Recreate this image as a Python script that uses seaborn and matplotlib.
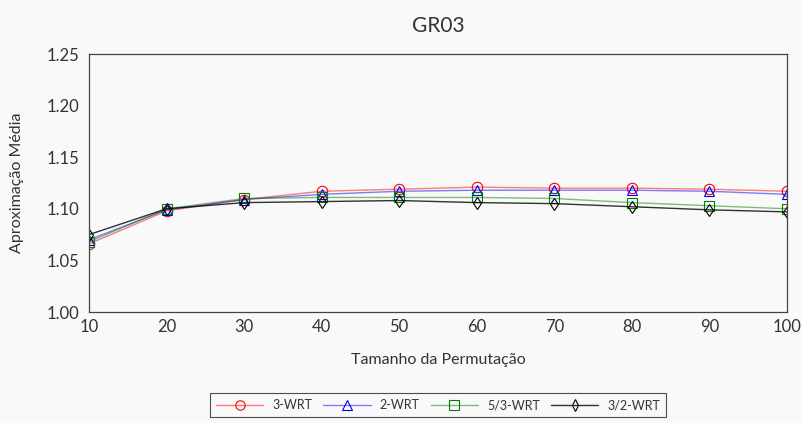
import matplotlib
matplotlib.use("Agg")
import matplotlib.pyplot as plt
import seaborn as sns
import pandas as pd
from matplotlib.colors import to_rgba

sizes = [10, 20, 30, 40, 50, 60, 70, 80, 90, 100]
wrt3 = [1.066, 1.098, 1.109, 1.117, 1.119, 1.121, 1.120, 1.120, 1.119, 1.117]
wrt2 = [1.070, 1.099, 1.109, 1.114, 1.117, 1.118, 1.118, 1.118, 1.117, 1.114]
wrt53 = [1.068, 1.100, 1.110, 1.111, 1.111, 1.111, 1.110, 1.106, 1.103, 1.100]
wrt32 = [1.075, 1.100, 1.106, 1.107, 1.108, 1.106, 1.105, 1.102, 1.099, 1.097]
names = ["3-WRT", "2-WRT", "5/3-WRT", "3/2-WRT"]
series = [wrt3, wrt2, wrt53, wrt32]
colors = ["#ff0000", "#0000ff", "#008000", "#000000"]
markers = ["o", "^", "s", "d"]

bg = "#f9f9f9"
sns.set_theme(style="white")
plt.rcParams["font.family"] = ["Lato", "DejaVu Sans"]

fig = plt.figure(figsize=(8.03, 4.23), dpi=100, facecolor=bg)
ax = fig.add_axes([89/803, 1-312/423, (787-89)/803, (312-54)/423])
ax.set_facecolor(bg)

rows = []
for n, s in zip(names, series):
    for x, v in zip(sizes, s):
        rows.append({"Tamanho": x, "Valor": v, "Alg": n})
df = pd.DataFrame(rows)

handles = []
for n, c, m in zip(names, colors, markers):
    sub = df[df["Alg"] == n]
    sns.lineplot(data=sub, x="Tamanho", y="Valor", ax=ax, color=c, marker=m,
                 markersize=7.5 if m != "d" else 6.5, markerfacecolor="none",
                 markeredgecolor=c, markeredgewidth=0.8, linewidth=1.0,
                 estimator=None, legend=False)
    ln = ax.lines[-1]
    ln.set_color(to_rgba(c, 0.5 if c != "#000000" else 0.8))
    ln.set_markeredgecolor(c)
    ln.set_markerfacecolor("none")
    handles.append(ln)

ax.set_xlim(10, 100)
ax.set_ylim(1.0, 1.25)
ax.set_xticks(sizes)
ax.set_yticks([1.00, 1.05, 1.10, 1.15, 1.20, 1.25])
ax.set_yticklabels([f"{v:.2f}" for v in [1.00, 1.05, 1.10, 1.15, 1.20, 1.25]])
for sp in ax.spines.values():
    sp.set_color("#444444")
    sp.set_linewidth(0.9)
ax.tick_params(axis="both", direction="in", length=4, width=0.8, colors="#666666",
               labelcolor="#333333", labelsize=12)
ax.tick_params(axis="x", length=0, pad=5)
ax.tick_params(axis="y", pad=7)
ax.set_xlabel("Tamanho da Permutação", fontsize=11.5, color="#333333", labelpad=13)
ax.set_ylabel("Aproximação Média", fontsize=11.5, color="#333333", labelpad=16)
ax.set_title("GR03", fontsize=15, color="#333333", pad=16)

leg = fig.legend(handles, names, loc="center", bbox_to_anchor=(438/803, 1-405/423),
                 ncol=4, frameon=True, fancybox=False, fontsize=9,
                 handlelength=3.8, columnspacing=0.9, handletextpad=0.7,
                 borderpad=0.5, edgecolor="#222222", facecolor=bg, markerscale=0.9)
leg.get_frame().set_linewidth(0.8)
for t in leg.get_texts():
    t.set_color("#333333")

fig.savefig("out.png", dpi=100, facecolor=bg)
